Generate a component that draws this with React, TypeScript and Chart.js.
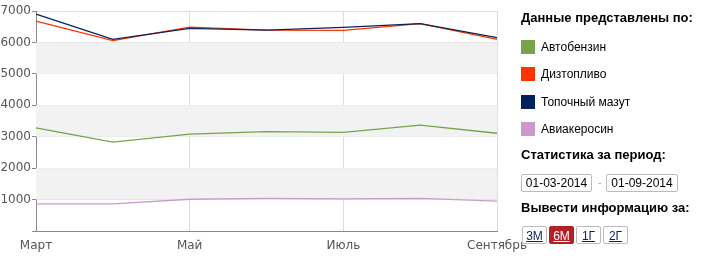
import React, { useEffect, useRef } from "react";
import { Chart, registerables } from "chart.js";

Chart.register(...registerables);

const months = ["Март", "Апрель", "Май", "Июнь", "Июль", "Август", "Сентябрь"];
const mazut = [6900, 6100, 6450, 6390, 6480, 6600, 6150];
const diesel = [6680, 6060, 6490, 6390, 6385, 6600, 6100];
const petrol = [3280, 2830, 3080, 3160, 3140, 3370, 3110];
const kerosene = [860, 860, 1010, 1040, 1020, 1040, 950];
const yTicks = [0, 1000, 2000, 3000, 4000, 5000, 6000, 7000];
const shadedBands = [[1000, 2000], [3000, 4000], [5000, 6000]];

const legendItems = [
  { label: "Автобензин", color: "#77a34a" },
  { label: "Дизтопливо", color: "#ff3300" },
  { label: "Топочный мазут", color: "#002060" },
  { label: "Авиакеросин", color: "#cc99cc" },
];
const periodButtons = ["3М", "6М", "1Г", "2Г"];

const bandPlugin = {
  id: "bands",
  beforeDatasetsDraw(chart: any) {
    const { ctx, chartArea, scales } = chart;
    ctx.save();
    ctx.fillStyle = "#f2f2f2";
    for (const [a, b] of shadedBands) {
      const y1 = scales.y.getPixelForValue(b);
      const y2 = scales.y.getPixelForValue(a);
      ctx.fillRect(chartArea.left, y1, chartArea.right - chartArea.left, y2 - y1);
    }
    ctx.restore();
  },
};

export default function App() {
  const ref = useRef<HTMLCanvasElement>(null);
  useEffect(() => {
    const chart = new Chart(ref.current!, {
      type: "line",
      data: {
        labels: months,
        datasets: [
          { label: "Топочный мазут", data: mazut, borderColor: "#0a2456" },
          { label: "Дизтопливо", data: diesel, borderColor: "#ff3300" },
          { label: "Автобензин", data: petrol, borderColor: "#77a34a" },
          { label: "Авиакеросин", data: kerosene, borderColor: "#cc99cc" },
        ].map((d) => ({ ...d, borderWidth: 1.3, pointRadius: 0, tension: 0, fill: false })),
      },
      options: {
        animation: false,
        responsive: false,
        maintainAspectRatio: false,
        events: [],
        layout: { padding: { top: 11, right: 204, left: 0, bottom: 0 } },
        plugins: { legend: { display: false }, tooltip: { enabled: false } },
        scales: {
          x: {
            offset: false,
            border: { color: "#888", width: 1 },
            grid: {
              color: (c: any) => (c.index === 0 ? "transparent" : c.index % 2 === 0 ? "#dddddd" : "transparent"),
              drawTicks: false,
            },
            ticks: {
              autoSkip: false,
              maxRotation: 0,
              padding: 8,
              color: "#555",
              font: { family: "DejaVu Sans", size: 12 },
              callback: (_v: any, i: number) => (i % 2 === 0 ? months[i] : ""),
            },
            afterFit: (s: any) => {
              s.height = 25;
            },
          },
          y: {
            min: 0,
            max: 7000,
            border: { color: "#888", width: 1 },
            grid: {
              color: (c: any) => (c.tick && c.tick.value % 1000 === 0 && c.tick.value !== 0 ? "#dddddd" : "transparent"),
              tickColor: "#888",
              tickLength: 4,
            },
            ticks: {
              stepSize: 500,
              padding: 1,
              color: "#555",
              font: { family: "DejaVu Sans", size: 12 },
              callback: (v: any) => (yTicks.includes(v) && v !== 0 ? String(v) : ""),
            },
            afterFit: (s: any) => {
              s.width = 36;
            },
          },
        },
      },
      plugins: [bandPlugin],
    });
    return () => chart.destroy();
  }, []);

  const title: React.CSSProperties = {
    position: "absolute",
    left: 521,
    fontFamily: "Liberation Sans, Arial, sans-serif",
    fontWeight: "bold",
    fontSize: 13,
    color: "#000",
    whiteSpace: "nowrap",
    lineHeight: "14px",
  };
  const normal: React.CSSProperties = {
    fontFamily: "Liberation Sans, Arial, sans-serif",
    fontSize: 12,
    color: "#000",
    whiteSpace: "nowrap",
  };

  return (
    <div style={{ position: "absolute", left: 0, top: 0, width: 701, height: 256, background: "#fff", overflow: "hidden" }}>
      <canvas ref={ref} width={701} height={256} style={{ position: "absolute", left: 0, top: 0, width: 701, height: 256 }} />
      <div style={{ ...title, top: 11 }}>Данные представлены по:</div>
      {legendItems.map((it, i) => (
        <div key={it.label} style={{ position: "absolute", left: 521, top: 39 + i * 27.5, height: 15, display: "flex", alignItems: "center" }}>
          <div style={{ width: 14, height: 14, background: it.color }} />
          <span style={{ ...normal, marginLeft: 6, lineHeight: "14px" }}>{it.label}</span>
        </div>
      ))}
      <div style={{ ...title, top: 148 }}>Статистика за период:</div>
      <div style={{ position: "absolute", left: 521, top: 174, width: 69, height: 16, border: "1px solid #bbb", borderRadius: 2, ...normal, textAlign: "center", lineHeight: "16px", fontSize: 12 }}>01-03-2014</div>
      <div style={{ position: "absolute", left: 598, top: 176, ...normal, color: "#aaa", fontSize: 11 }}>-</div>
      <div style={{ position: "absolute", left: 606, top: 174, width: 70, height: 16, border: "1px solid #bbb", borderRadius: 2, ...normal, textAlign: "center", lineHeight: "16px", fontSize: 12 }}>01-09-2014</div>
      <div style={{ ...title, top: 201 }}>Вывести информацию за:</div>
      {periodButtons.map((b, i) => {
        const active = b === "6М";
        const lefts = [522, 549, 576, 603];
        return (
          <div
            key={b}
            style={{
              position: "absolute",
              left: lefts[i],
              top: 226,
              width: 23,
              height: 16,
              border: active ? "1px solid #b02020" : "1px solid #bbb",
              borderRadius: 2,
              background: active ? "#b52025" : "#fff",
              ...normal,
              color: active ? "#fff" : "#0a2456",
              textDecoration: "underline",
              textAlign: "center",
              lineHeight: "18px",
            }}
          >
            {b}
          </div>
        );
      })}
    </div>
  );
}
